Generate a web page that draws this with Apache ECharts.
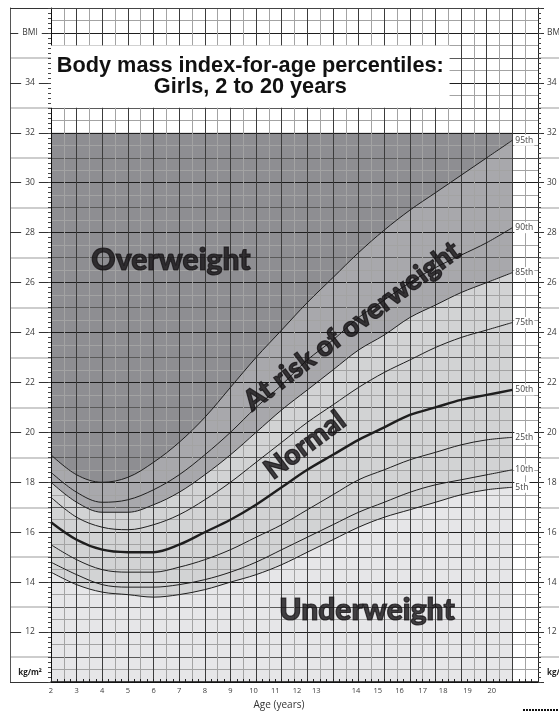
<!DOCTYPE html>
<html><head><meta charset="utf-8">
<script src="https://cdn.jsdelivr.net/npm/echarts@6/dist/echarts.min.js"></script>
<style>html,body{margin:0;padding:0;background:#fff}#c{width:559px;height:711px}</style>
</head><body><div id="c"></div>
<script>
// ---- data ----
const ages = [2,3,4,5,6,7,8,9,10,11,12,13,14,15,16,17,18,19,20];
const p5  = [14.4,13.9,13.6,13.5,13.4,13.5,13.7,14.0,14.3,14.7,15.2,15.7,16.2,16.6,16.9,17.2,17.5,17.7,17.8];
const p10 = [14.8,14.3,13.9,13.8,13.8,13.9,14.1,14.4,14.8,15.3,15.8,16.3,16.8,17.2,17.6,17.9,18.1,18.3,18.5];
const p25 = [15.5,14.9,14.5,14.4,14.4,14.6,14.9,15.3,15.8,16.3,16.9,17.5,18.1,18.5,18.9,19.2,19.5,19.7,19.8];
const p50 = [16.4,15.7,15.3,15.2,15.2,15.5,16.0,16.5,17.1,17.8,18.5,19.1,19.7,20.2,20.7,21.0,21.3,21.5,21.7];
const p75 = [17.4,16.6,16.2,16.1,16.3,16.7,17.3,18.0,18.8,19.6,20.4,21.1,21.8,22.4,22.9,23.4,23.8,24.1,24.4];
const p85 = [18.0,17.2,16.8,16.8,17.1,17.6,18.3,19.1,20.0,20.9,21.7,22.5,23.3,23.9,24.6,25.1,25.6,26.0,26.4];
const p90 = [18.4,17.6,17.2,17.3,17.7,18.3,19.1,20.0,21.0,21.9,22.9,23.7,24.6,25.3,26.0,26.6,27.1,27.6,28.2];
const p95 = [19.1,18.3,18.0,18.2,18.8,19.6,20.6,21.8,23.0,24.1,25.2,26.2,27.2,28.1,28.9,29.6,30.3,31.0,31.7];
const percentileNames = ['5th','10th','25th','50th','75th','85th','90th','95th'];
const percentileValues = [p5,p10,p25,p50,p75,p85,p90,p95];
const shadeTop = 32;
const xTickLabels = ['2','3','4','5','6','7','8','9','10','11','12','13','14','15','16','17','18','19','20'];
const xTickAt = [2,3,4,5,6,7,8,9,9.9,10.75,11.6,12.35,13.9,14.75,15.6,16.5,17.3,18.25,19.2];
const yTickLabels = ['kg/m²','12','14','16','18','20','22','24','26','28','30','32','34','BMI'];
const yTickAt = [10.36,12,14,16,18,20,22,24,26,28,30,32,34,36];
const regionTexts = ['Overweight','At risk of overweight','Normal','Underweight'];
const regionAge = [6.68,13.74,11.91,14.33];
const regionBmi = [26.9,24.26,19.49,12.88];
const regionRotate = [0,36.7,36.7,0];
const titleLines = ['Body mass index-for-age percentiles:','Girls, 2 to 20 years'];

// ---- helpers ----
const evenTicks = []; for (let v = 10; v <= 36; v += 2) evenTicks.push(v); evenTicks.push(37);
const oddTicks = []; for (let v = 11; v <= 35; v += 2) oddTicks.push(v);
function lookup(vals, labels, v){ for (let i=0;i<vals.length;i++){ if (Math.abs(vals[i]-v)<1e-6) return labels[i]; } return ''; }
const tickFont = {fontFamily:'Open Sans', fontSize:8.5, color:'#3a3a3a'};
const XMIN=2, XMAX=21, YMIN=10, YMAX=37;
function xa(o){ return Object.assign({type:'value', min:XMIN, max:XMAX, position:'bottom', axisLine:{show:false, onZero:false}, axisTick:{show:false}, axisLabel:{show:false}, splitLine:{show:false}}, o); }
function ya(o){ return Object.assign({type:'value', min:YMIN, max:YMAX, position:'left', axisLine:{show:false, onZero:false}, axisTick:{show:false}, axisLabel:{show:false}, splitLine:{show:false}}, o); }

const xAxis = [
  xa({interval:0.5, z:2, axisLine:{show:true,onZero:false,lineStyle:{color:'#111',width:1.5}},
      axisTick:{show:true,inside:true,length:3,lineStyle:{color:'#222'}},
      minorTick:{show:true,splitNumber:2,length:3,lineStyle:{color:'#222'}},
      splitLine:{show:true,lineStyle:{color:'#a3a3a3',width:1}}}),
  xa({interval:1, z:2, splitLine:{show:true,lineStyle:{color:'#3c3c3c',width:1}}}),
  xa({z:6, axisLabel:{show:true, customValues:xTickAt, margin:5, fontSize:7.5, fontFamily:'Open Sans', color:'#3a3a3a',
      formatter:(v)=>lookup(xTickAt,xTickLabels,v)},
      name:'Age (years)', nameLocation:'middle', nameGap:16,
      nameTextStyle:{fontFamily:'Open Sans', fontSize:10, color:'#333', padding:[0,31,0,0]}}),
  xa({position:'top', z:6, axisLine:{show:true,onZero:false,lineStyle:{color:'#444',width:1}}})
];

const yAxis = [
  ya({interval:0.5, z:2, axisLine:{show:true,onZero:false,lineStyle:{color:'#111',width:1}}, splitLine:{show:true,lineStyle:{color:'#a3a3a3',width:1}}}),
  ya({interval:1, z:2, splitLine:{show:true,lineStyle:{color:'#5a5a5a',width:1}}}),
  ya({interval:2, z:2, splitLine:{show:true,lineStyle:{color:'#1e1e1e',width:1}}}),
  ya({z:5, axisTick:{show:true, customValues:oddTicks, length:41, lineStyle:{color:'#bdbdbd',width:1.5}}}),
  ya({z:6, axisTick:{show:true, customValues:evenTicks, length:41, lineStyle:{color:'#333',width:1}},
      axisLabel:Object.assign({show:true, customValues:yTickAt, align:'center', margin:21, backgroundColor:'#fff', padding:[0,4],
        formatter:(v)=>{const t=lookup(yTickAt,yTickLabels,v); return v<11?'{b|'+t+'}':t;},
        rich:{b:{fontFamily:'Open Sans',fontSize:8,fontWeight:'bold',color:'#222'}}}, tickFont)}),
  ya({z:6, interval:1, axisTick:{show:true,length:3,lineStyle:{color:'#444'}}, minorTick:{show:true,splitNumber:5,length:3,lineStyle:{color:'#444'}}}),
  ya({z:6, offset:41, axisLine:{show:true,onZero:false,lineStyle:{color:'#555',width:1}}}),
  ya({position:'right', z:5, axisTick:{show:true, customValues:oddTicks, length:21, lineStyle:{color:'#bdbdbd',width:1.5}}}),
  ya({position:'right', z:6, axisLine:{show:true,onZero:false,lineStyle:{color:'#222',width:1}},
      axisTick:{show:true, customValues:evenTicks, length:6, lineStyle:{color:'#333',width:1}},
      axisLabel:Object.assign({show:true, customValues:yTickAt, align:'left', margin:9,
        formatter:(v)=>{const t=lookup(yTickAt,yTickLabels,v); return v<11?'{b|'+t+'}':t;},
        rich:{b:{fontFamily:'Open Sans',fontSize:8,fontWeight:'bold',color:'#222'}}}, tickFont)}),
  ya({position:'right', z:6, interval:1, axisTick:{show:true,length:3,lineStyle:{color:'#444'}}, minorTick:{show:true,splitNumber:5,length:3,lineStyle:{color:'#444'}}})
];

function pts(arr){ return ages.map((a,i)=>[a,arr[i]]); }
const SM = 0.35;
function fill(data, color){
  return {type:'line', data, z:1, silent:true, smooth:SM, symbol:'none', lineStyle:{width:0}, areaStyle:{color, opacity:1, origin:'start'}};
}
const series = [
  fill(ages.map(a=>[a,shadeTop]), '#8e8e92'),
  fill(pts(p95), '#a8a8ac'),
  fill(pts(p85), '#d2d3d4'),
  fill(pts(p5), '#e6e6e8'),
  {type:'line', data:[], z:3, silent:true,
   markArea:{silent:true, z:3, itemStyle:{color:'#ffffff', opacity:1, borderWidth:0},
     label:{show:true, position:'inside', formatter:titleLines.join('\n'), fontFamily:'Liberation Sans, Arial, sans-serif', fontWeight:'bold', fontSize:21.7, lineHeight:21, color:'#111', align:'center'},
     data:[[{coord:[2,35.5]},{coord:[17.55,33]}]]}}
];
percentileNames.forEach((n,i)=>{
  series.push({type:'line', name:n, data:pts(percentileValues[i]), z:4, silent:true, smooth:SM, symbol:'none',
    lineStyle:{color:'#1e1e1e', width: n==='50th'?2.4:1},
    endLabel:{show:true, formatter:'{a}', fontFamily:'Open Sans', fontSize:8.5, color:'#444', backgroundColor:'#fff', padding:[1,1], distance:2}});
});
series.push({type:'scatter', z:5, silent:true, symbolSize:0.1, itemStyle:{color:'rgba(0,0,0,0)'},
  label:{show:true, position:'inside', fontFamily:'Lato', fontWeight:900, fontSize:30, color:'#161416',
    textBorderColor:'#161416', textBorderWidth:1.2},
  data: regionTexts.map((t,i)=>({value:[regionAge[i],regionBmi[i]], label:{formatter:t, rotate:regionRotate[i], fontSize: i===1||i===2?28:30}}))});

const chart = echarts.init(document.getElementById('c'), null, {renderer:'canvas'});
chart.setOption({
  animation:false,
  backgroundColor:'#fff',
  grid:{left:51, right:21, top:8, bottom:29, containLabel:false, outerBoundsMode:'none'},
  xAxis, yAxis, series,
  graphic:[{type:'line', silent:true, shape:{x1:523,y1:710,x2:559,y2:710}, style:{stroke:'#111', lineWidth:2, lineDash:[2,1]}}]
});
</script></body></html>
